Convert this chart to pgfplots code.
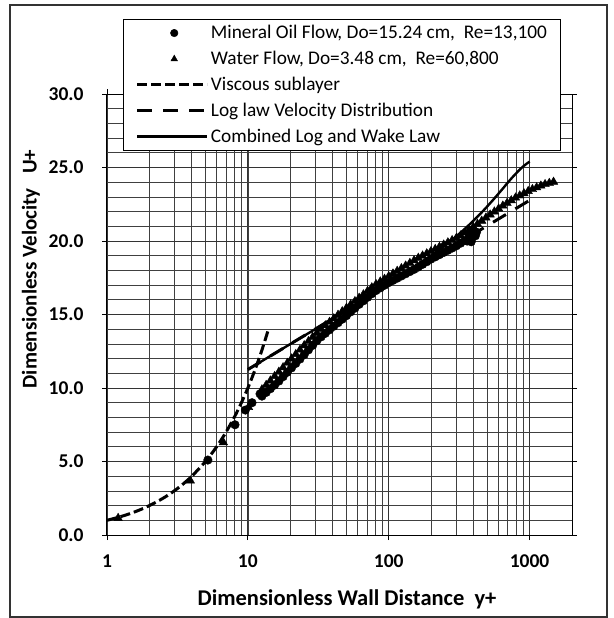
\documentclass[border=0pt]{standalone}
\usepackage{fontspec}
\setmainfont{Carlito}
\usepackage{pgfplots}
\pgfplotsset{compat=1.18}
\pgfplotsset{
  marklegend/.style={legend image code/.code={\draw[mark repeat=2,mark phase=2,##1, mark size=3.8pt] plot coordinates {(27pt,0pt)(37pt,0pt)(47pt,0pt)};}},
  thicklegend/.style={legend image code/.code={\draw[##1, line width=3.4pt] (0pt,0pt) -- (70pt,0pt);}},
  linelegend/.style={legend image code/.code={\draw[##1] (0pt,0pt) -- (70pt,0pt);}},
}

\begin{document}
\begin{tikzpicture}
\useasboundingbox (0pt,0pt) rectangle (613pt,-618pt);
\draw[line width=1.2pt, black!80] (10pt,-5pt) rectangle (607pt,-617pt);
\begin{axis}[
  at={(107pt,-535pt)}, anchor=south west,
  scale only axis, width=465pt, height=441pt,
  xmode=log, xmin=1, xmax=2000, ymin=0, ymax=30,
  xtick={1,10,100,1000}, xticklabels={1,10,100,1000},
  ytick={0,5,...,30},
  minor ytick={1,2,3,4,6,7,8,9,11,12,13,14,16,17,18,19,21,22,23,24,26,27,28,29},
  grid=both,
  major grid style={black!80, line width=0.8pt},
  minor grid style={black!75, line width=0.7pt},
  tick align=outside, major tick length=5pt, minor tick length=0pt,
  tick style={black, line width=0.9pt},
  axis line style={black, line width=1pt},
  yticklabel style={xshift=-15pt, /pgf/number format/.cd, fixed, fixed zerofill, precision=1},
  /pgf/number format/assume math mode=true,
  tick label style={font=\bfseries\fontsize{19.5}{22}\selectfont},
  xticklabel style={yshift=-11pt},
  legend style={at={(0.0344,1.170)}, anchor=north west, draw=black, line width=1.1pt,
    fill=white, font=\fontsize{19.3}{22}\selectfont, row sep=7pt,
    inner xsep=12pt, inner ysep=4pt, nodes={inner sep=2pt}},
  legend cell align=left,
  linelegend,
]
% Mineral oil flow (circles)
\addplot[only marks, mark=*, mark size=4.3pt, black, mark options={line width=0.4pt}, marklegend]
coordinates {
(5.2,5.1)(8.1,7.5)(9.6,8.5)(10.7,9.0)(12.2,9.6)
(12.59,9.45)(13.49,9.7)(14.45,9.95)(15.49,10.2)(16.60,10.47)(17.78,10.77)(19.05,11.07)(20.42,11.37)
(21.88,11.67)(23.44,11.97)(25.12,12.27)(26.92,12.59)(28.84,12.9)(30.90,13.22)(33.11,13.48)(35.48,13.72)
(38.02,13.96)(40.74,14.2)(43.65,14.44)(46.77,14.68)(50.12,14.92)(53.70,15.18)(57.54,15.43)(61.66,15.69)
(66.07,15.93)(70.79,16.17)(75.86,16.41)(81.28,16.63)(87.10,16.81)(93.33,16.99)(100,17.17)(107.2,17.32)
(114.8,17.47)(123.0,17.62)(131.8,17.77)(141.3,17.92)(151.4,18.07)(162.2,18.23)(173.8,18.41)(186.2,18.59)
(199.5,18.77)(213.8,18.92)(229.1,19.07)(245.5,19.22)(263.0,19.37)(281.8,19.52)(302.0,19.67)(323.6,19.85)
(346.7,20.03)(371.5,20.21)(398.1,20.4)
(360,20.0)(380,20.55)(390,20.2)(405,20.65)(412,20.35)(385,19.95)(370,20.5)(420,20.6)(395,20.75)
};
\addlegendentry{Mineral Oil Flow, Do=15.24 cm,\ \ Re=13,100}
% Water flow (triangles)
\addplot[only marks, mark=triangle*, mark size=4.9pt, black, mark options={line width=0.4pt}, marklegend]
coordinates {
(1.2,1.15)(3.9,3.7)(6.7,6.3)(10.1,8.7)
(12.59,9.9)(13.49,10.2)(14.45,10.5)(15.49,10.8)(16.60,11.1)(17.78,11.4)(19.05,11.7)(20.42,12.0)
(21.88,12.3)(23.44,12.6)(25.12,12.9)(26.92,13.18)(28.84,13.47)(30.90,13.75)(33.11,14.01)(35.48,14.25)
(38.02,14.49)(40.74,14.73)(43.65,14.97)(46.77,15.21)(50.12,15.45)(53.70,15.68)(57.54,15.9)(61.66,16.13)
(66.07,16.36)(70.79,16.6)(75.86,16.84)(81.28,17.06)(87.10,17.24)(93.33,17.42)(100,17.6)(107.2,17.78)
(114.8,17.96)(123.0,18.14)(131.8,18.32)(141.3,18.5)(151.4,18.68)(162.2,18.85)(173.8,19.0)(186.2,19.15)
(199.5,19.3)(213.8,19.45)(229.1,19.6)(245.5,19.75)(263.0,19.9)(281.8,20.05)(302.0,20.2)(323.6,20.37)
(346.7,20.56)(371.5,20.76)(398.1,20.96)(426.6,21.16)(457.1,21.37)(489.8,21.58)(524.8,21.79)(562.3,22.0)
(602.6,22.2)(645.7,22.4)(691.8,22.58)(741.3,22.76)(794.3,22.94)(851.1,23.09)(912.0,23.24)(977.2,23.39)
(1047,23.52)(1122,23.64)(1202,23.76)(1288,23.86)(1380,23.94)(1479,24.02)
};
\addlegendentry{Water Flow, Do=3.48 cm,\ \ Re=60,800}
% Viscous sublayer u+ = y+
\addplot[black, line width=3pt, dash pattern=on 10pt off 4pt, smooth]
coordinates {
(1,1)(1.25,1.25)(1.5,1.5)(1.75,1.75)(2,2)(2.5,2.5)(3,3)(3.5,3.5)(4,4)(5,5)(6,6)(7,7)(8,8)(9,9)
(10,10)(11,11)(12,12)(13,13)(14,14)
};
\addlegendentry{Viscous sublayer}
% Log law
\addplot[black, line width=3pt, dash pattern=on 15pt off 11pt]
coordinates {
(10,11.26)(100,17.01)(1000,22.77)
};
\addlegendentry{Log law Velocity Distribution}
% Combined log and wake law
\addplot[black, line width=2.4pt, smooth, thicklegend]
coordinates {
(10,11.26)(20,12.99)(30,14.00)(50,15.30)(100,17.08)(150,18.17)(200,19.00)(250,19.69)(300,20.30)
(350,20.86)(400,21.39)(450,21.88)(500,22.35)(550,22.79)(600,23.21)(650,23.60)(700,23.97)(750,24.30)
(800,24.59)(850,24.85)(900,25.07)(950,25.25)(1000,25.40)
};
\addlegendentry{Combined Log and Wake Law}
\end{axis}
\node[rotate=90, font=\bfseries\fontsize{21}{24}\selectfont] at (31pt,-269pt) {Dimensionless Velocity\ \ \ U+};
\node[font=\bfseries\fontsize{22.5}{26}\selectfont] at (347pt,-599pt) {Dimensionless Wall Distance\ \ y+};
\end{tikzpicture}
\end{document}
